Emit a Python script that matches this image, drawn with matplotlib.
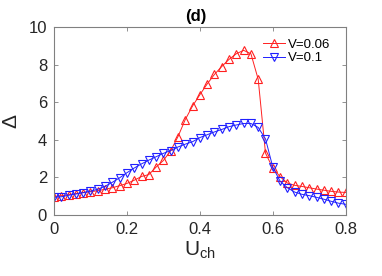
import matplotlib
matplotlib.use('Agg')
import matplotlib.pyplot as plt

# データ
u_ch = [0.00, 0.02, 0.04, 0.06, 0.08, 0.10, 0.12, 0.14, 0.16, 0.18,
        0.20, 0.22, 0.24, 0.26, 0.28, 0.30, 0.32, 0.34, 0.36, 0.38,
        0.40, 0.42, 0.44, 0.46, 0.48, 0.50, 0.52, 0.54, 0.56, 0.58,
        0.60, 0.62, 0.64, 0.66, 0.68, 0.70, 0.72, 0.74, 0.76, 0.78, 0.80]

delta_v006 = [0.97, 1.03, 1.08, 1.13, 1.19, 1.24, 1.29, 1.37, 1.45, 1.56,
              1.68, 1.85, 2.05, 2.15, 2.55, 2.90, 3.42, 4.17, 5.08, 5.80,
              6.40, 6.97, 7.48, 7.90, 8.28, 8.58, 8.76, 8.58, 7.22, 3.29,
              2.50, 2.04, 1.70, 1.58, 1.52, 1.45, 1.38, 1.32, 1.26, 1.22, 1.20]

delta_v01 = [0.94, 0.97, 1.05, 1.12, 1.19, 1.27, 1.37, 1.53, 1.74, 1.98,
             2.25, 2.50, 2.72, 2.92, 3.10, 3.28, 3.43, 3.62, 3.77, 3.90,
             4.12, 4.27, 4.42, 4.55, 4.70, 4.79, 4.87, 4.87, 4.66, 4.05,
             2.55, 1.80, 1.45, 1.22, 1.10, 1.03, 0.94, 0.84, 0.73, 0.63, 0.57]

xticks = [0, 0.2, 0.4, 0.6, 0.8]
xticklabels = ['0', '0.2', '0.4', '0.6', '0.8']
yticks = [0, 2, 4, 6, 8, 10]

plt.rcParams['font.family'] = ['Liberation Sans', 'DejaVu Sans']
plt.rcParams['mathtext.fontset'] = 'custom'
plt.rcParams['mathtext.rm'] = 'Liberation Sans'

fig = plt.figure(figsize=(3.82, 2.76), dpi=100)
ax = fig.add_axes([0.1414, 0.221, 0.7636, 0.681])

ax.plot(u_ch, delta_v006, '-^', color='#ff2020', linewidth=0.7, markersize=5.5,
        markerfacecolor='none', markeredgewidth=0.8, label='V=0.06')
ax.plot(u_ch, delta_v01, '-v', color='#2020ff', linewidth=0.7, markersize=5.5,
        markerfacecolor='none', markeredgewidth=0.8, label='V=0.1')

ax.set_xlim(0, 0.8)
ax.set_ylim(0, 10)
ax.set_xticks(xticks)
ax.set_xticklabels(xticklabels)
ax.set_yticks(yticks)

axis_color = '#262626'
for s in ax.spines.values():
    s.set_color('#808080')
    s.set_linewidth(0.8)
ax.tick_params(direction='in', length=3, width=0.6, color='#808080',
               labelsize=12, labelcolor=axis_color, top=True, right=True, pad=5)

ax.set_xlabel(r'U$_{\mathrm{ch}}$', fontsize=15, color=axis_color, labelpad=2)
ax.set_ylabel('Δ', fontsize=15, color=axis_color, labelpad=6)
ax.set_title('(d)', fontsize=12, fontweight='bold', color='black', pad=4, x=0.485)

ax.legend(loc='upper left', frameon=False, fontsize=9.5, handlelength=1.7,
          handletextpad=0.2, borderaxespad=0.0, labelspacing=0.1,
          bbox_to_anchor=(0.698, 0.968))

plt.savefig('out.png', dpi=100)
